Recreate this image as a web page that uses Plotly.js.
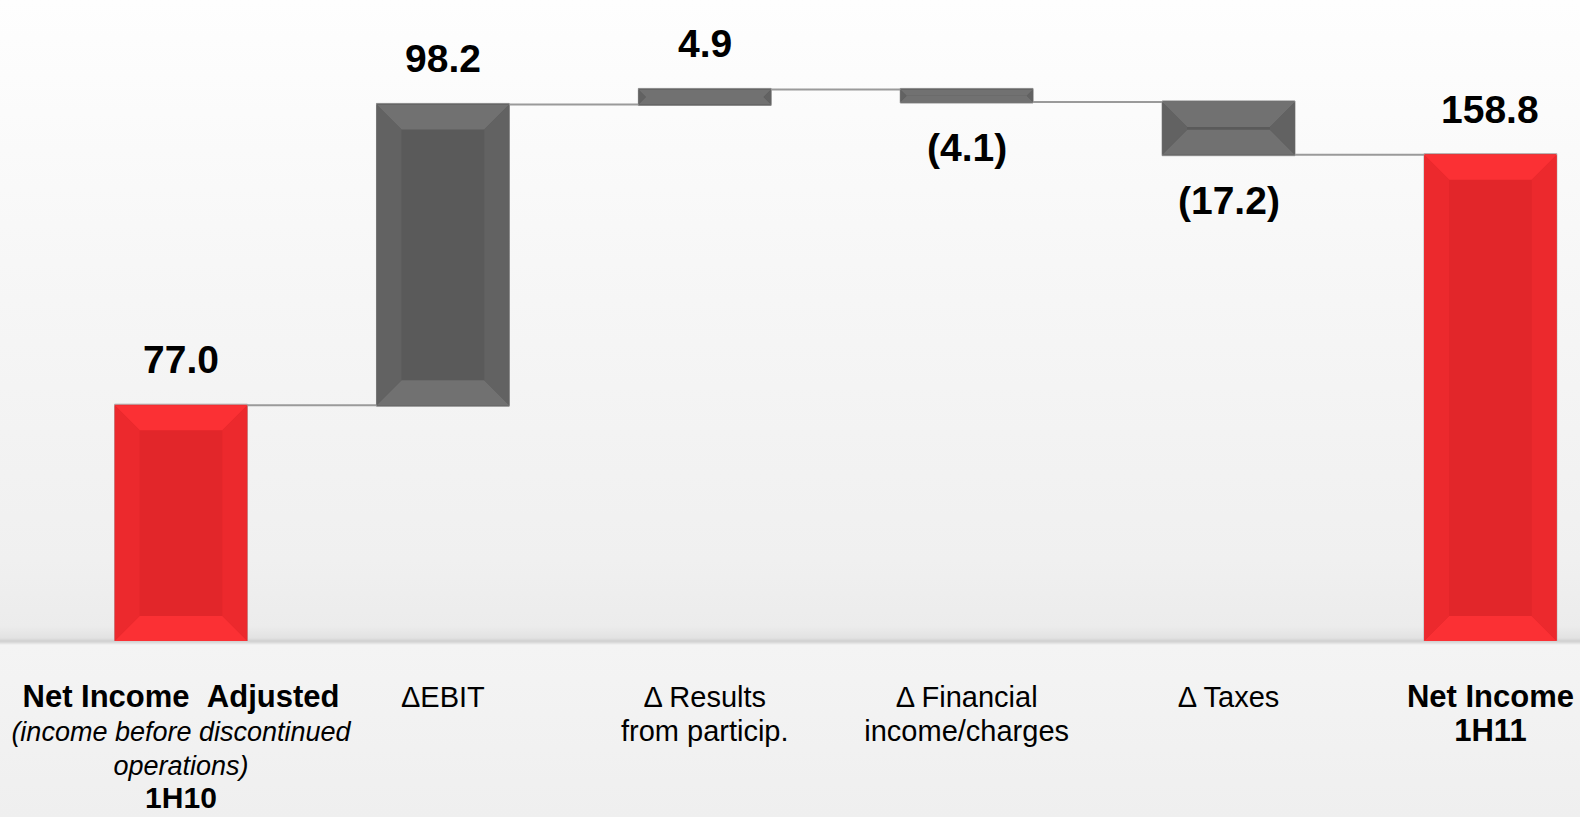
<!DOCTYPE html>
<html>
<head>
<meta charset="utf-8">
<script src="https://cdn.plot.ly/plotly-3.0.1.min.js"></script>
<style>
  html, body { margin: 0; padding: 0; }
  body {
    width: 1580px; height: 817px; overflow: hidden;
    background: linear-gradient(to bottom,
      #fefefe 0px, #f6f6f6 300px, #f0f0f0 560px, #ececec 626px,
      #e2e2e2 638px, #d0d0d0 641px, #d6d6d6 642px, #f4f4f4 645px, #efefef 817px);
  }
  #chart { width: 1580px; height: 817px; }
</style>
</head>
<body>
<div id="chart"></div>
<script>
// ---- data ----
const categories = ['Net Income Adjusted 1H10', 'ΔEBIT', 'Δ Results from particip.', 'Δ Financial income/charges', 'Δ Taxes', 'Net Income 1H11'];
const values = [77.0, 98.2, 4.9, -4.1, -17.2, 158.8];
const measures = ['absolute', 'relative', 'relative', 'relative', 'relative', 'total'];
const valueLabels = ['77.0', '98.2', '4.9', '(4.1)', '(17.2)', '158.8'];
const tickLabels = [
  '<b><span style="font-size:31px">Net Income\u00a0\u00a0Adjusted</span></b><br><i><span style="font-size:27px">(income before discontinued</span></i><br><i><span style="font-size:27px">operations)</span></i><br><b><span style="font-size:30px">1H10</span></b>',
  '<span style="font-size:29px">ΔEBIT</span>',
  '<span style="font-size:29px">Δ Results</span><br><span style="font-size:29px">from particip.</span>',
  '<span style="font-size:29px">Δ Financial</span><br><span style="font-size:29px">income/charges</span>',
  '<span style="font-size:29px">Δ Taxes</span>',
  '<b><span style="font-size:31px">Net Income</span></b><br><b><span style="font-size:31px">1H11</span></b>'
];

// ---- layout geometry ----
const W = 1580, H = 817, mB = 176, mT = 0;
const yRange = [0, 209.3];
const xRange = [-0.691, 5.342];
const barW = 0.507;
const pxPerY = (H - mB - mT) / (yRange[1] - yRange[0]);
const pxPerX = W / (xRange[1] - xRange[0]);

const xs = categories.map((c, i) => i);

// cumulative extents of each bar
let cum = 0;
const bars = values.map((v, i) => {
  let base, end;
  if (measures[i] === 'absolute') { base = 0; end = v; cum = v; }
  else if (measures[i] === 'total') { base = 0; end = cum; }
  else { base = cum; end = cum + v; cum = end; }
  return { i, base, end, total: measures[i] !== 'relative' };
});

// bevel shapes
const shapes = [];
const bevel = 25;
bars.forEach(b => {
  const x0 = b.i - barW / 2, x1 = b.i + barW / 2;
  const y0 = Math.min(b.base, b.end), y1 = Math.max(b.base, b.end);
  const hpx = (y1 - y0) * pxPerY, wpx = barW * pxPerX;
  const e = Math.min(bevel, hpx / 2, wpx / 2);
  const ex = e / pxPerX, ey = e / pxPerY;
  const light = b.total ? '#fb3034' : '#717171';
  const side = b.total ? '#ec292d' : '#626262';
  const mk = (pts, col) => shapes.push({
    type: 'path', xref: 'x', yref: 'y', layer: 'above',
    path: 'M ' + pts.map(p => p[0] + ',' + p[1]).join(' L ') + ' Z',
    fillcolor: col, line: { width: 0 }
  });
  mk([[x0, y1], [x1, y1], [x1 - ex, y1 - ey], [x0 + ex, y1 - ey]], light);
  mk([[x0, y0], [x1, y0], [x1 - ex, y0 + ey], [x0 + ex, y0 + ey]], light);
  mk([[x0, y0], [x0, y1], [x0 + ex, y1 - ey], [x0 + ex, y0 + ey]], side);
  mk([[x1, y0], [x1, y1], [x1 - ex, y1 - ey], [x1 - ex, y0 + ey]], side);
});

// value labels
const annotations = bars.map((b, k) => {
  const up = b.end >= b.base;
  return {
    x: b.i, y: up ? Math.max(b.base, b.end) : Math.min(b.base, b.end),
    xref: 'x', yref: 'y', text: valueLabels[k], showarrow: false,
    yanchor: up ? 'bottom' : 'top', yshift: up ? 22 : -22,
    font: { family: 'Liberation Sans, Arial, sans-serif', size: 39, color: '#000000', weight: 'bold' }
  };
});

const trace = {
  type: 'waterfall',
  x: xs,
  y: values,
  measure: measures,
  width: xs.map(() => barW),
  increasing: { marker: { color: '#5a5a5a', line: { color: '#8a8a8a', width: 1 } } },
  decreasing: { marker: { color: '#5a5a5a', line: { color: '#8a8a8a', width: 1 } } },
  totals: { marker: { color: '#e2262a', line: { color: '#b0b0b0', width: 1 } } },
  connector: { mode: 'between', line: { color: '#9a9a9a', width: 2 } },
  textinfo: 'none',
  hoverinfo: 'skip',
  showlegend: false
};

const layout = {
  width: W, height: H,
  margin: { l: 0, r: 0, t: mT, b: mB, pad: 0 },
  paper_bgcolor: 'rgba(0,0,0,0)',
  plot_bgcolor: 'rgba(0,0,0,0)',
  showlegend: false,
  font: { family: 'Liberation Sans, Arial, sans-serif', color: '#000000' },
  xaxis: {
    type: 'linear', range: xRange, fixedrange: true,
    tickmode: 'array', tickvals: xs, ticktext: tickLabels,
    showgrid: false, zeroline: false, showline: false, ticks: '',
    tickfont: { family: 'Liberation Sans, Arial, sans-serif', size: 26, color: '#000000' },
    ticklabelstandoff: 39
  },
  yaxis: {
    range: yRange, fixedrange: true, visible: false,
    showgrid: false, zeroline: false
  },
  shapes: shapes,
  annotations: annotations
};

Plotly.newPlot('chart', [trace], layout, { displayModeBar: false, staticPlot: true });
</script>
</body>
</html>
